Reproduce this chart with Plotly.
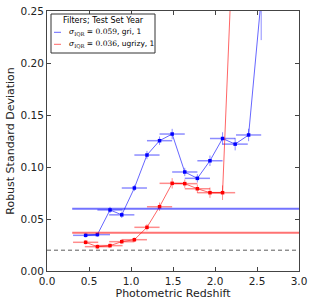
import plotly.graph_objects as go

# ---- data ----
z_blue = [0.46, 0.60, 0.75, 0.89, 1.04, 1.19, 1.34, 1.49, 1.64, 1.79, 1.94, 2.09, 2.24, 2.40, 2.55]
std_blue = [0.0343, 0.0350, 0.0587, 0.0540, 0.0798, 0.1115, 0.1253, 0.1317, 0.0952, 0.0891,
            0.1060, 0.1274, 0.1220, 0.1308, 0.2620]
yerr_blue = [0.002, 0.002, 0.003, 0.003, 0.003, 0.004, 0.004, 0.005, 0.004, 0.004, 0.005, 0.006, 0.006, 0.006, 0.040]
xerr_blue = [0.15] * len(z_blue)

z_red = [0.46, 0.60, 0.75, 0.89, 1.04, 1.19, 1.34, 1.49, 1.64, 1.79, 1.94, 2.09, 2.24]
std_red = [0.0276, 0.0234, 0.0244, 0.0282, 0.0301, 0.0420, 0.0618, 0.0843, 0.0840, 0.0791,
           0.0753, 0.0753, 0.3700]
yerr_red = [0.002, 0.002, 0.002, 0.002, 0.002, 0.003, 0.004, 0.005, 0.004, 0.004, 0.005, 0.007, 0.01]
xerr_red = [0.15] * len(z_red)

sigma_iqr = [0.0599, 0.0368]
sigma_text = ["0.059", "0.036"]
filters = ["gri", "ugrizy"]
year = [1, 1]
hline_x = [0.3, 3.0]
floor_y = 0.02

x_ticks = [0.0, 0.5, 1.0, 1.5, 2.0, 2.5, 3.0]
y_ticks = [0.00, 0.05, 0.10, 0.15, 0.20, 0.25]

BLUE = "rgba(0,0,255,0.6)"
RED = "rgba(255,0,0,0.6)"

fig = go.Figure()

for z, s, ye, xe, col, mcol in [
    (z_blue, std_blue, yerr_blue, xerr_blue, BLUE, "#0000ff"),
    (z_red, std_red, yerr_red, xerr_red, RED, "#ff0000"),
]:
    fig.add_trace(go.Scatter(
        x=z, y=s, mode="lines+markers",
        line=dict(color=col, width=1),
        marker=dict(color=mcol, size=3.5, symbol="square"),
        error_x=dict(type="data", array=xe, color=col.replace("0.6", "0.45"), thickness=1.5, width=0),
        error_y=dict(type="data", array=ye, color=col.replace("0.6", "0.45"), thickness=1, width=0),
        showlegend=False, cliponaxis=True,
    ))

for val, col in zip(sigma_iqr, ["rgba(0,0,255,0.55)", "rgba(255,0,0,0.55)"]):
    fig.add_trace(go.Scatter(
        x=hline_x, y=[val, val], mode="lines",
        line=dict(color=col, width=2), showlegend=False,
    ))

fig.add_trace(go.Scatter(
    x=[x_ticks[0], x_ticks[-1]], y=[floor_y, floor_y], mode="lines",
    line=dict(color="#333333", width=0.8, dash="4px,3px"), showlegend=False,
))

# ---- manual legend (matplotlib-style box) ----
W, H, L, T = 252.0, 260.0, 47.0, 11.0
def px(x):
    return (x - L) / W
def py(y):
    return (T + H - y) / H

fig.add_shape(type="rect", xref="paper", yref="paper",
              x0=px(51), x1=px(155), y0=py(53), y1=py(14),
              line=dict(color="#333333", width=1), fillcolor="white", layer="above")
fig.add_annotation(xref="paper", yref="paper", x=px(103), y=py(20.7),
                   text="Filters; Test Set Year", showarrow=False,
                   font=dict(family="DejaVu Sans", size=8, color="black"),
                   xanchor="center", yanchor="middle")
for i, (txt, f, yr, col) in enumerate(zip(sigma_text, filters, year, ["#0000ff", "#ff0000"])):
    yy = [32.3, 44.3][i]
    fig.add_shape(type="line", xref="paper", yref="paper",
                  x0=px(54), x1=px(61), y0=py(yy), y1=py(yy),
                  line=dict(color=col, width=1), opacity=0.6, layer="above")
    fig.add_annotation(xref="paper", yref="paper", x=px(67), y=py(yy),
                       text=("<span style='font-family:DejaVu Serif'><i>σ</i><sub>IQR</sub> = " + txt +
                             "</span>, " + f + ", " + str(yr)),
                       showarrow=False,
                       font=dict(family="DejaVu Sans", size=7.5, color="black"),
                       xanchor="left", yanchor="middle")

axis_common = dict(
    showline=True, linecolor="#444444", linewidth=1, mirror="allticks",
    ticks="inside", ticklen=4, tickcolor="#444444", tickwidth=1,
    showgrid=False, zeroline=False, automargin=False, ticklabeloverflow="allow",
    tickfont=dict(family="DejaVu Sans", size=10.5, color="#222222"),
)

fig.update_layout(
    width=314, height=304,
    margin=dict(l=47, r=15, t=11, b=33),
    plot_bgcolor="white", paper_bgcolor="white",
    xaxis=dict(range=[0, 3], tickvals=x_ticks, tickformat=".1f",
               title=dict(text="Photometric Redshift", standoff=2,
                          font=dict(family="DejaVu Sans", size=11, color="#222222")),
               **axis_common),
    yaxis=dict(range=[0, 0.25], tickvals=y_ticks, tickformat=".2f",
               title=dict(text="Robust Standard Deviation", standoff=3,
                          font=dict(family="DejaVu Sans", size=11, color="#222222")),
               **axis_common),
)

fig.write_html("out.html", config={"displayModeBar": False},
               post_script="document.body.style.margin='0';document.body.style.overflow='hidden';")
